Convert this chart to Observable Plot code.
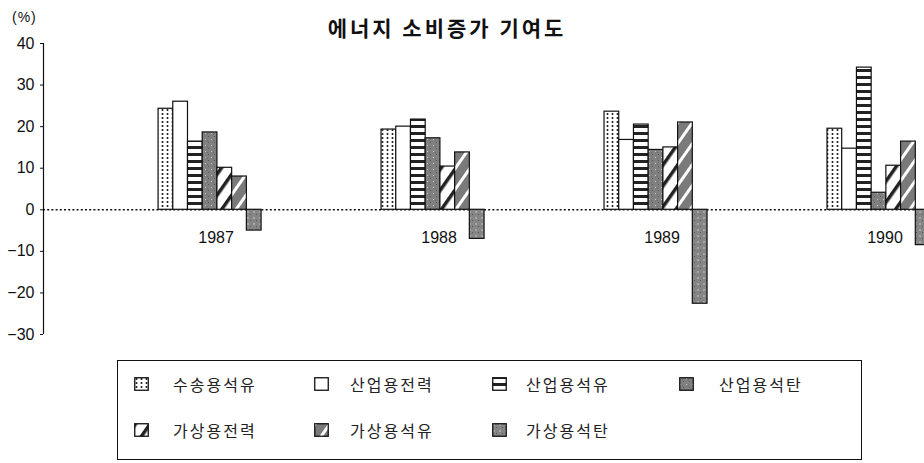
<!DOCTYPE html>
<html>
<head>
<meta charset="utf-8">
<script src="https://cdn.jsdelivr.net/npm/d3@7"></script>
<script src="https://cdn.jsdelivr.net/npm/@observablehq/plot@0.6"></script>
<style>
  body { margin: 0; background: #fff; overflow: hidden; }
  #wrap { position: relative; width: 924px; height: 463px; }
  #chart { position: absolute; left: 0; top: 0; }
  #pct { position: absolute; left: 12px; top: 8px; font: 14px "Liberation Sans", Arial, sans-serif; letter-spacing: 1px; color: #111; line-height: 18px; }
  #title { position: absolute; left: 0; width: 894px; top: 16px; text-align: center; font: bold 21px "Noto Sans CJK KR", sans-serif; letter-spacing: 3px; line-height: 22px; color: #111; }
  #legend { position: absolute; left: 117px; top: 360px; width: 745px; height: 100px; box-sizing: border-box;
            border: 1.5px solid #111; font: 16px "Noto Sans CJK KR", sans-serif; letter-spacing: 2px; color: #222; }
  .item { position: absolute; display: flex; align-items: center; height: 20px; white-space: nowrap; }
  .item svg { display: block; }
</style>
</head>
<body>
<svg width="0" height="0" style="position:absolute">
  <defs>
    <pattern id="p0" width="5" height="4" patternUnits="userSpaceOnUse">
      <rect width="5" height="4" fill="#fff"/>
      <circle cx="2.5" cy="2" r="1" fill="#111"/>
    </pattern>
    <pattern id="p1" width="4" height="4" patternUnits="userSpaceOnUse">
      <rect width="4" height="4" fill="#fff"/>
    </pattern>
    <pattern id="p2" width="200" height="7" patternUnits="userSpaceOnUse">
      <rect width="200" height="7" fill="#222"/>
      <rect x="0" y="2" width="200" height="4" fill="#fff"/>
    </pattern>
    <pattern id="p3" width="6" height="6" patternUnits="userSpaceOnUse">
      <rect width="6" height="6" fill="#808080"/>
      <rect x="1" y="1" width="1" height="1" fill="#c8c8c8"/>
      <rect x="4" y="4" width="1" height="1" fill="#555"/>
      <rect x="3" y="2" width="1" height="1" fill="#666"/>
    </pattern>
    <pattern id="p4" width="12" height="12" patternUnits="userSpaceOnUse" patternTransform="rotate(35)">
      <rect width="12" height="12" fill="#fff"/>
      <rect x="0" y="0" width="3.5" height="12" fill="#222"/>
    </pattern>
    <pattern id="p5" width="12" height="12" patternUnits="userSpaceOnUse" patternTransform="rotate(35)">
      <rect width="12" height="12" fill="#7a7a7a"/>
      <rect x="0" y="0" width="3" height="12" fill="#fff"/>
    </pattern>
    <pattern id="p6" width="6" height="6" patternUnits="userSpaceOnUse">
      <rect width="6" height="6" fill="#858585"/>
      <circle cx="2" cy="2" r="0.7" fill="#e0e0e0"/>
      <rect x="4" y="4" width="1" height="1" fill="#555"/>
    </pattern>
  </defs>
</svg>
<div id="wrap">
  <div id="chart"></div>
  <div id="pct">(%)</div>
  <div id="title">에너지 소비증가 기여도</div>
  <div id="legend"></div>
</div>
<script>
// ---- data ----
const years = [1987, 1988, 1989, 1990];
const seriesNames = ["수송용석유", "산업용전력", "산업용석유", "산업용석탄", "가상용전력", "가상용석유", "가상용석탄"];
const transportOil   = [24.3, 19.3, 23.6, 19.5];
const industryPower  = [26.0, 20.0, 16.8, 14.7];
const industryOil    = [16.4, 21.7, 20.5, 34.2];
const industryCoal   = [18.6, 17.2, 14.4, 4.1];
const householdPower = [10.1, 10.4, 15.0, 10.6];
const householdOil   = [8.0, 13.8, 21.0, 16.4];
const householdCoal  = [-5.0, -7.0, -22.6, -8.5];
const yTicks = [-30, -20, -10, 0, 10, 20, 30, 40];

const seriesValues = [transportOil, industryPower, industryOil, industryCoal, householdPower, householdOil, householdCoal];
const rows = [];
seriesValues.forEach((vals, k) => vals.forEach((v, i) => rows.push({year: years[i], k, name: seriesNames[k], value: v})));

const xMin = 1986.253, xMax = 1990.204;
const BAR = 0.066;
const yDomain = [-30, 40];

const barMarks = seriesNames.map((name, k) =>
  Plot.rect(rows.filter(d => d.k === k), {
    x1: d => d.year + (k - 3.5) * BAR,
    x2: d => d.year + (k - 2.5) * BAR,
    y1: () => 0,
    y2: "value",
    fill: `url(#p${k})`,
    stroke: "#111",
    strokeWidth: 1.2
  })
);

const chart = Plot.plot({
  width: 924,
  height: 345,
  marginTop: 43,
  marginBottom: 11,
  marginLeft: 43,
  marginRight: 0,
  style: {fontSize: "16px", fontFamily: "'Liberation Sans', Arial, sans-serif", color: "#111", background: "transparent"},
  x: {type: "linear", domain: [xMin, xMax], axis: null},
  y: {domain: yDomain, ticks: yTicks, tickSize: 3, tickPadding: 6, label: null},
  marks: [
    Plot.ruleY([0], {stroke: "#111", strokeDasharray: "2,2.2", strokeWidth: 1.4}),
    Plot.ruleX([xMin], {y1: () => yDomain[0], y2: () => yDomain[1], stroke: "#111", strokeWidth: 1.2}),
    ...barMarks,
    Plot.text(years, {x: d => d, y: () => 0, text: d => String(d), dy: 28, dx: 6, fontSize: 16, fill: "#111"})
  ]
});
document.getElementById("chart").appendChild(chart);

// ---- legend ----
const legend = document.getElementById("legend");
const colLeft = [16, 196, 374, 561];
const rowTop = [13, 59];
const gaps = [24, 21, 19, 25];
seriesNames.forEach((name, k) => {
  const r = k < 4 ? 0 : 1;
  const c = k < 4 ? k : k - 4;
  const item = document.createElement("div");
  item.className = "item";
  item.style.left = colLeft[c] + "px";
  item.style.top = rowTop[r] + "px";
  item.innerHTML = `<svg width="15" height="14"><rect x="0.75" y="0.75" width="13.5" height="12.5" fill="url(#p${k})" stroke="#111" stroke-width="1.3"/></svg>` +
    `<span style="margin-left:${gaps[c]}px">${name}</span>`;
  legend.appendChild(item);
});
</script>
</body>
</html>
